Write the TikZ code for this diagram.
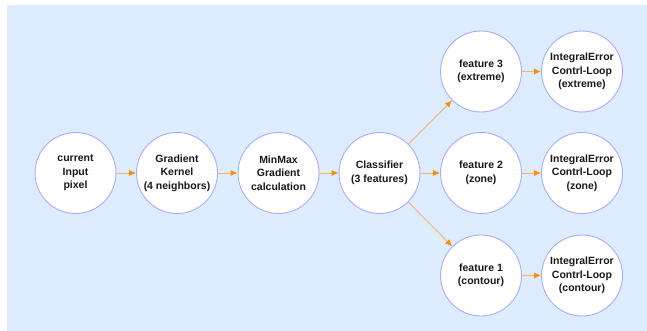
\documentclass[tikz,border=0pt]{standalone}
\usepackage{fontspec}
\setmainfont{Liberation Sans}
\usetikzlibrary{arrows.meta}
\definecolor{bgblue}{HTML}{DDEDFF}
\definecolor{ringblue}{HTML}{AAAAFF}
\definecolor{arrorange}{HTML}{FF8C00}
\definecolor{lineorange}{HTML}{F5B26B}
\begin{document}
\begin{tikzpicture}[x=1pt,y=-1pt,
  proc/.style={circle,draw=ringblue,line width=0.9pt,fill=white,minimum size=81pt,inner sep=0pt,
    align=center,font=\fontsize{10.5}{13.5}\selectfont\bfseries,text=black!90},
  flow/.style={draw=lineorange,line width=0.9pt,-{Latex[length=7pt,width=6pt,color=arrorange]}}]
\useasboundingbox (0,0) rectangle (647,331);
\fill[bgblue] (7,5) rectangle (647,331);
\node[proc] (inp) at (75.5,173) {current\\Input\\pixel};
\node[proc] (grad) at (177,173) {Gradient\\Kernel\\(4 neighbors)};
\node[proc] (mm) at (278.5,173) {MinMax\\Gradient\\calculation};
\node[proc] (cls) at (379.5,173) {Classifier\\(3 features)};
\node[proc] (f3) at (481,71.5) {feature 3\\(extreme)};
\node[proc] (f2) at (481,173) {feature 2\\(zone)};
\node[proc] (f1) at (481,275.5) {feature 1\\(contour)};
\node[proc] (i3) at (582,71.5) {IntegralError\\Contrl-Loop\\(extreme)};
\node[proc] (i2) at (582,173) {IntegralError\\Contrl-Loop\\(zone)};
\node[proc] (i1) at (582,275.5) {IntegralError\\Contrl-Loop\\(contour)};
\draw[flow] (inp) -- (grad);
\draw[flow] (grad) -- (mm);
\draw[flow] (mm) -- (cls);
\draw[flow] (cls) -- (f3);
\draw[flow] (cls) -- (f2);
\draw[flow] (cls) -- (f1);
\draw[flow] (f3) -- (i3);
\draw[flow] (f2) -- (i2);
\draw[flow] (f1) -- (i1);
\end{tikzpicture}
\end{document}
